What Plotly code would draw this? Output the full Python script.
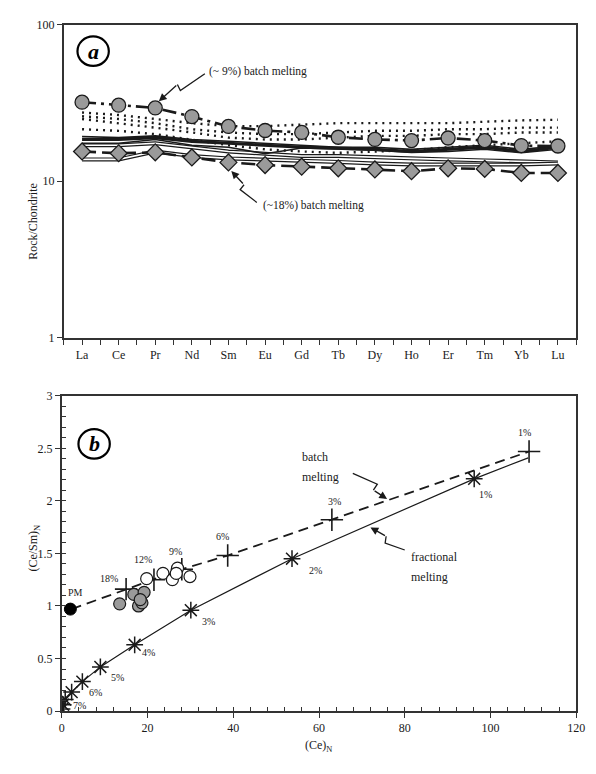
import plotly.graph_objects as go

W, H = 596, 774

# ---------------- Panel (a) data ----------------
REE = ["La", "Ce", "Pr", "Nd", "Sm", "Eu", "Gd", "Tb", "Dy", "Ho", "Er", "Tm", "Yb", "Lu"]
melt9 = [32.0, 30.6, 29.4, 25.9, 22.4, 21.1, 20.5, 19.1, 18.5, 18.2, 18.9, 18.2, 16.9, 16.8]
melt18 = [15.5, 15.1, 15.3, 14.2, 13.2, 12.7, 12.4, 12.1, 11.9, 11.6, 12.1, 12.0, 11.3, 11.3]
dot_a = [27.5, 26.5, 25.0, 23.5, 22.5, 22.5, 23.0, 23.5, 23.5, 23.5, 23.5, 24.0, 24.5, 24.7]
dot_b = [26.0, 25.0, 23.5, 21.5, 20.5, 20.0, 20.0, 20.5, 21.0, 21.0, 21.5, 21.5, 22.0, 22.0]
dot_c = [25.0, 23.5, 22.0, 20.5, 19.0, 18.5, 18.5, 19.0, 19.5, 19.5, 20.0, 20.0, 20.5, 20.5]
dot_d = [21.5, 21.0, 20.0, 18.5, 17.0, 16.0, 15.5, 15.2, 15.5, 15.8, 16.5, 17.0, 17.5, 18.0]
sol_a = [18.5, 18.5, 19.0, 18.0, 17.5, 17.0, 16.5, 16.3, 16.0, 15.5, 16.0, 16.5, 15.5, 16.5]
sol_b = [19.3, 19.0, 19.5, 18.5, 18.0, 17.5, 17.0, 16.5, 16.5, 16.0, 16.5, 17.0, 16.0, 16.8]
sol_c = [17.5, 17.5, 18.5, 17.0, 16.5, 15.0, 16.3, 16.0, 15.8, 15.3, 15.5, 16.0, 15.2, 16.0]
sol_d = [17.0, 17.0, 17.5, 16.5, 15.5, 15.0, 14.5, 14.5, 14.2, 14.0, 13.8, 13.6, 13.4, 13.2]
sol_e = [13.8, 13.8, 15.5, 14.5, 14.0, 13.8, 13.5, 13.3, 13.0, 12.8, 12.8, 12.8, 12.8, 13.0]

# ---------------- Panel (b) data ----------------
pm_x = [2.0]
pm_y = [0.97]
batch_line_x = [2.3, 15.0, 21.5, 28.0, 38.7, 63.0, 109.0]
batch_line_y = [0.97, 1.16, 1.25, 1.35, 1.48, 1.82, 2.47]
batch_labels = ["18%", "12%", "9%", "6%", "3%", "1%"]
frac_x = [0.05, 0.3, 0.8, 2.3, 4.8, 9.0, 17.0, 30.1, 53.7, 96.2]
frac_y = [0.02, 0.06, 0.11, 0.18, 0.28, 0.42, 0.63, 0.96, 1.45, 2.21]
frac_tail_x = [108.8]
frac_tail_y = [2.41]
frac_labels = ["", "", "", "7%", "6%", "5%", "4%", "3%", "2%", "1%"]
gray_x = [13.5, 16.8, 17.9, 18.7, 19.2, 18.3]
gray_y = [1.02, 1.11, 1.00, 1.03, 1.13, 1.06]
open_x = [19.8, 23.6, 25.8, 27.0, 26.7, 29.9]
open_y = [1.26, 1.31, 1.25, 1.36, 1.31, 1.28]

FONT = "Liberation Serif"
INK = "#1a1a1a"

idx = list(range(len(REE)))
fig = go.Figure()

def add_a(y, color=INK, width=1.5, dash="solid", mode="lines", marker=None):
    fig.add_trace(go.Scatter(x=idx, y=y, mode=mode, xaxis="x", yaxis="y",
                             line=dict(color=color, width=width, dash=dash),
                             marker=marker, hoverinfo="skip", showlegend=False))

for d in (dot_a, dot_b, dot_c, dot_d):
    add_a(d, width=2.4, dash="2px,5px")
# double lines (black outer, white core)
for s in (sol_d, sol_e):
    add_a(s, width=4)
    add_a(s, color="white", width=1.6)
add_a(sol_c, width=1.6)
add_a(sol_b, width=1.6)
add_a(sol_a, width=3.2)
add_a(melt18, width=2.6, dash="14px,6px", mode="lines+markers",
      marker=dict(symbol="diamond", size=13, color="#9a9a9a", line=dict(color=INK, width=1.3)))
add_a(melt9, width=2.6, dash="14px,5px,3px,5px", mode="lines+markers",
      marker=dict(symbol="circle", size=14, color="#9a9a9a", line=dict(color=INK, width=1.3)))

# Panel b traces
fig.add_trace(go.Scatter(x=frac_x + frac_tail_x, y=frac_y + frac_tail_y, mode="lines",
                         xaxis="x2", yaxis="y2", line=dict(color=INK, width=1.2),
                         hoverinfo="skip", showlegend=False))
fig.add_trace(go.Scatter(x=frac_x, y=frac_y, mode="markers", xaxis="x2", yaxis="y2",
                         marker=dict(symbol="asterisk-open", size=14, color=INK,
                                     line=dict(color=INK, width=1.5)),
                         hoverinfo="skip", showlegend=False))
fig.add_trace(go.Scatter(x=batch_line_x, y=batch_line_y, mode="lines", xaxis="x2", yaxis="y2",
                         line=dict(color=INK, width=1.8, dash="10px,6px"),
                         hoverinfo="skip", showlegend=False))
fig.add_trace(go.Scatter(x=batch_line_x[1:], y=batch_line_y[1:], mode="markers", xaxis="x2", yaxis="y2",
                         marker=dict(symbol="cross-thin-open", size=16, color=INK,
                                     line=dict(color=INK, width=1.6)),
                         hoverinfo="skip", showlegend=False))
fig.add_trace(go.Scatter(x=gray_x, y=gray_y, mode="markers", xaxis="x2", yaxis="y2",
                         marker=dict(symbol="circle", size=12, color="#9a9a9a",
                                     line=dict(color=INK, width=1.2)),
                         hoverinfo="skip", showlegend=False))
fig.add_trace(go.Scatter(x=open_x, y=open_y, mode="markers", xaxis="x2", yaxis="y2",
                         marker=dict(symbol="circle", size=12, color="white",
                                     line=dict(color=INK, width=1.2)),
                         hoverinfo="skip", showlegend=False))
fig.add_trace(go.Scatter(x=pm_x, y=pm_y, mode="markers", xaxis="x2", yaxis="y2",
                         marker=dict(symbol="circle", size=12, color="black",
                                     line=dict(color="black", width=1)),
                         hoverinfo="skip", showlegend=False))

def P(x, y):
    return x / W, 1 - y / H

annotations = []
shapes = []

def text(xp, yp, s, size=11, xanchor="left"):
    x, y = P(xp, yp)
    annotations.append(dict(x=x, y=y, xref="paper", yref="paper", text=s, showarrow=False,
                            xanchor=xanchor, yanchor="middle",
                            font=dict(family=FONT, size=size, color=INK)))

def zigzag(pts):
    # path through all but last point, arrow on last segment
    path = "M " + " L ".join(f"{P(x, y)[0]:.5f},{P(x, y)[1]:.5f}" for x, y in pts[:-1])
    shapes.append(dict(type="path", xref="paper", yref="paper", path=path,
                       line=dict(color=INK, width=1.3)))
    (x1, y1), (x2, y2) = pts[-2], pts[-1]
    hx, hy = P(x2, y2)
    annotations.append(dict(x=hx, y=hy, xref="paper", yref="paper", text="", showarrow=True,
                            ax=x1 - x2, ay=y1 - y2, axref="pixel", ayref="pixel",
                            arrowhead=2, arrowsize=1.2, arrowwidth=1.3, arrowcolor=INK))

# Panel a annotations
text(208, 66, "(~ 9%) batch melting", 11.5)
zigzag([(206, 68), (181, 85), (178, 79), (159, 96)])
text(263, 202, "(~18%) batch melting", 11.5)
zigzag([(259, 199), (242, 186), (246, 181), (233, 167)])

# Panel b annotations
text(303, 458, "batch", 12)
text(303, 479, "melting", 12)
zigzag([(357, 475), (382, 486), (378, 492), (392, 501)])
text(414, 560, "fractional", 12)
text(414, 581, "melting", 12)
zigzag([(410, 553), (390, 546), (391, 539), (375, 530)])

batch_off = [(-17, -11), (-11, -20), (-6, -18), (-5, -19), (3, -18), (-5, -19)]
for (bx, by, lab, (dx, dy)) in zip(batch_line_x[1:], batch_line_y[1:], batch_labels, batch_off):
    annotations.append(dict(x=bx, y=by, xref="x2", yref="y2", text=lab, showarrow=False,
                            xshift=dx, yshift=-dy, font=dict(family=FONT, size=10, color=INK)))
frac_off = [None, None, None, (8, 13), (13, 11), (17, 11), (14, 8), (18, 11), (23, 12), (11, 16)]
for (fx, fy, lab, off) in zip(frac_x, frac_y, frac_labels, frac_off):
    if lab:
        annotations.append(dict(x=fx, y=fy, xref="x2", yref="y2", text=lab, showarrow=False,
                                xshift=off[0], yshift=-off[1], font=dict(family=FONT, size=10, color=INK)))
annotations.append(dict(x=pm_x[0], y=pm_y[0], xref="x2", yref="y2", text="PM", showarrow=False,
                        xshift=5, yshift=17, font=dict(family=FONT, size=10, color=INK)))

# Panel labels (a) and (b)
for (cx, cy, lab) in ((92, 45, "a"), (93, 445, "b")):
    x0, y0 = P(cx - 16, cy + 15)
    x1, y1 = P(cx + 16, cy - 15)
    shapes.append(dict(type="circle", xref="paper", yref="paper", x0=x0, y0=y0, x1=x1, y1=y1,
                       line=dict(color="black", width=2.2), fillcolor="white", layer="above"))
    x, y = P(cx, cy)
    annotations.append(dict(x=x, y=y, xref="paper", yref="paper", text=f"<b><i>{lab}</i></b>",
                            showarrow=False, xanchor="center", yanchor="middle",
                            font=dict(family=FONT, size=22, color="black")))

# Axis titles
annotations.append(dict(x=P(22, 177)[0], y=P(22, 177)[1], xref="paper", yref="paper",
                        text="Rock/Chondrite", textangle=-90, showarrow=False,
                        font=dict(family=FONT, size=12, color=INK)))
annotations.append(dict(x=P(22, 577)[0], y=P(22, 577)[1], xref="paper", yref="paper",
                        text="(Ce/Sm)<sub>N</sub>", textangle=-90, showarrow=False,
                        font=dict(family=FONT, size=12, color=INK)))
annotations.append(dict(x=P(322, 742)[0], y=P(322, 742)[1], xref="paper", yref="paper",
                        text="(Ce)<sub>N</sub>", showarrow=False, yanchor="top",
                        font=dict(family=FONT, size=12, color=INK)))

axis_common = dict(showgrid=False, zeroline=False, showline=True, mirror=True,
                   linecolor="#333333", linewidth=1.6, tickcolor="#333333",
                   tickfont=dict(family=FONT, size=12, color=INK))

fig.update_layout(
    width=W, height=H, margin=dict(l=0, r=0, t=0, b=0),
    paper_bgcolor="white", plot_bgcolor="white", showlegend=False,
    xaxis=dict(domain=[62 / W, 585 / W], anchor="y", range=[-0.5, 13.5],
               tickvals=idx, ticktext=REE, ticks="outside", ticklen=5,
               minor=dict(dtick=0.5, tick0=0.5, ticks="outside", ticklen=5, tickcolor="#333333"),
               **axis_common),
    yaxis=dict(domain=[1 - 337 / H, 1 - 18 / H], anchor="x", type="log", range=[0, 2],
               tickvals=[1, 10, 100], ticktext=["1", "10", "100"], ticks="outside", ticklen=5,
               **axis_common),
    xaxis2=dict(domain=[60 / W, 585 / W], anchor="y2", range=[0, 120], dtick=20,
                ticks="outside", ticklen=5,
                minor=dict(dtick=4, ticks="inside", ticklen=4, tickcolor="#333333"),
                **axis_common),
    yaxis2=dict(domain=[1 - 717 / H, 1 - 396 / H], anchor="x2", range=[0, 3], dtick=0.5,
                ticks="outside", ticklen=5,
                minor=dict(dtick=0.1, ticks="inside", ticklen=4, tickcolor="#333333"),
                **axis_common),
    annotations=annotations, shapes=shapes,
)

fig.write_html("out.html")
